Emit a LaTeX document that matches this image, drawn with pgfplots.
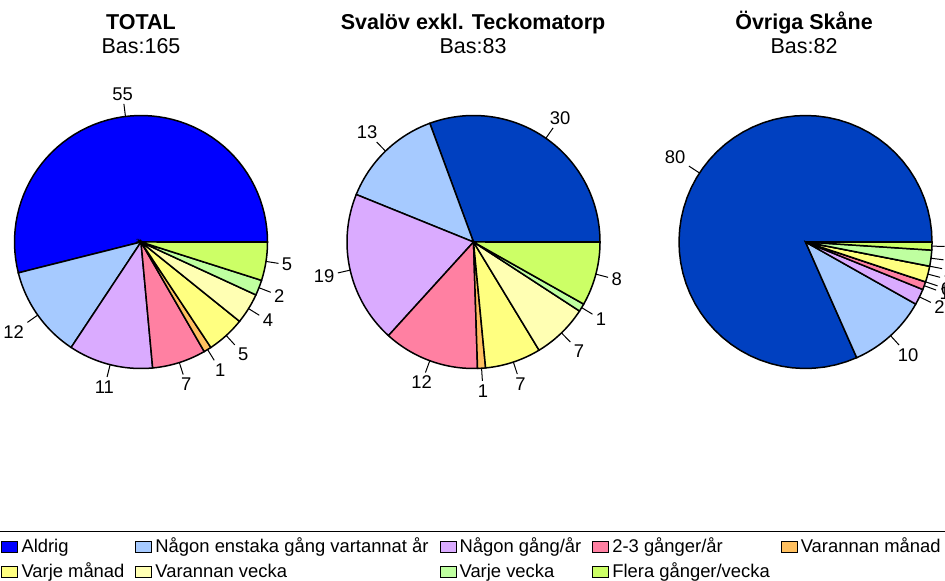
\documentclass[border=0pt]{standalone}
\usepackage{fontspec}
\setmainfont{Liberation Sans}
\usepackage{pgfplots}
\usepackage{pgfplotstable}
\pgfplotsset{compat=1.18}

\definecolor{cA}{HTML}{0000FF}
\definecolor{cAd}{HTML}{0040C0}
\definecolor{c1}{HTML}{A6CAFF}
\definecolor{c2}{HTML}{DAABFF}
\definecolor{c3}{HTML}{FF80A2}
\definecolor{c4}{HTML}{FFC060}
\definecolor{c5}{HTML}{FFFF80}
\definecolor{c6}{HTML}{FFFFB3}
\definecolor{c7}{HTML}{BFFFA0}
\definecolor{c8}{HTML}{CCFF66}

\newcommand{\labfont}{\fontsize{9.2pt}{11pt}\selectfont}
\newcommand{\titlefont}{\fontsize{10.75pt}{12.9pt}\selectfont}

% Aldrig, Någon enstaka, Någon gång/år, 2-3 ggr/år, Varannan månad,
% Varje månad, Varannan vecka, Varje vecka, Flera ggr/vecka
\pgfplotstableread{
v
55
12
11
7
1
5
4
2
5
}\tabTotal
\pgfplotstableread{
v
30
13
19
12
1
7
7
1
8
}\tabSvalov
\pgfplotstableread{
v
80
10
2
1
0
2
0
2
1
}\tabOvriga

\newcommand{\drawpie}[2]{%
  \def\total{0}%
  \pgfplotsforeachungrouped \i in {0,...,8}{%
    \pgfplotstablegetelem{\i}{v}\of#1%
    \pgfmathsetmacro\total{\total+\pgfplotsretval}}%
  \def\a{0}%
  \pgfplotsforeachungrouped \i in {0,...,8}{%
    \pgfplotstablegetelem{\i}{v}\of#1%
    \let\val\pgfplotsretval
    \pgfmathsetmacro\b{\a+(\val/\total)*360}%
    \pgfmathsetmacro\m{(\a+\b)/2}%
    \pgfmathtruncatemacro\anc{\m+180}%
    \pgfmathsetmacro\xa{cos(\m)}\pgfmathsetmacro\ya{sin(\m)}%
    \pgfmathsetmacro\xb{1.1*cos(\m)}\pgfmathsetmacro\yb{1.1*sin(\m)}%
    \ifnum\i=0 \def\fc{#2}\else\def\fc{c\i}\fi
    \ifdim\val pt=0pt
      \edef\temp{\noexpand\addplot[black, line width=0.75pt] coordinates {(0,0) (\xa,\ya)};}%
    \else
      \edef\temp{\noexpand\addplot[draw=black, line width=0.75pt, fill=\fc, domain=\a:\b, samples=60] ({cos(x)},{sin(x)}) -- (axis cs:0,0) -- cycle;}%
    \fi
    \temp
    \edef\temp{\noexpand\addplot[black, line width=0.5pt] coordinates {(\xa,\ya) (\xb,\yb)} node[pos=1, anchor=\anc, inner sep=1.5pt, font=\noexpand\labfont] {\val};}%
    \temp
    \let\a\b
  }}

\begin{document}
\begin{tikzpicture}
\pgfplotsset{pie/.style={anchor=center, hide axis, scale only axis,
  width=126.5pt, height=126.5pt, xmin=-1, xmax=1, ymin=-1, ymax=1, clip=false}}

\begin{axis}[pie, at={(70.5pt,-121pt)}]
\drawpie{\tabTotal}{cA}
\end{axis}
\begin{axis}[pie, at={(236.75pt,-121pt)}]
\drawpie{\tabSvalov}{cAd}
\end{axis}
\begin{axis}[pie, at={(402.75pt,-121pt)}]
\drawpie{\tabOvriga}{cAd}
\end{axis}

\node[font=\titlefont\bfseries, anchor=base] at (70.5pt,-15pt) {TOTAL};
\node[font=\titlefont, anchor=base] at (70.5pt,-26.75pt) {Bas:165};
\node[font=\titlefont\bfseries, anchor=base] at (236.5pt,-15pt) {Svalöv exkl. Teckomatorp};
\node[font=\titlefont, anchor=base] at (236.5pt,-26.75pt) {Bas:83};
\node[font=\titlefont\bfseries, anchor=base] at (402pt,-15pt) {Övriga Skåne};
\node[font=\titlefont, anchor=base] at (402pt,-26.75pt) {Bas:82};

\begin{axis}[at={(-3.2pt,-265.5pt)}, anchor=north west, hide axis, scale only axis,
  width=470pt, height=10pt, xmin=0, xmax=1, ymin=0, ymax=1,
  legend columns=5, legend cell align=left,
  legend image code/.code={\draw[#1, line width=0.5pt] (0pt,-2.7pt) rectangle (8pt,2.7pt);},
  legend style={at={(0,1)}, anchor=north west, draw=black, fill=white, line width=0.5pt,
    inner xsep=3.7pt, inner ysep=3.5pt, font=\labfont, row sep=3.9pt,
    nodes={inner sep=0pt, text height=6.8pt, text depth=1.8pt},
    /tikz/every even column/.append style={column sep=5.5pt},
    /tikz/every odd column/.append style={column sep=1.5pt}}]
\addlegendimage{fill=cA}\addlegendentry{Aldrig}
\addlegendimage{fill=c1}\addlegendentry{Någon enstaka gång vartannat år}
\addlegendimage{fill=c2}\addlegendentry{Någon gång/år}
\addlegendimage{fill=c3}\addlegendentry{2-3 gånger/år}
\addlegendimage{fill=c4}\addlegendentry{Varannan månad}
\addlegendimage{fill=c5}\addlegendentry{Varje månad}
\addlegendimage{fill=c6}\addlegendentry{Varannan vecka}
\addlegendimage{fill=c7}\addlegendentry{Varje vecka}
\addlegendimage{fill=c8}\addlegendentry{Flera gånger/vecka}
\end{axis}

\pgfresetboundingbox
\useasboundingbox (0,0) rectangle (472.5pt,-290.5pt);
\end{tikzpicture}
\end{document}
